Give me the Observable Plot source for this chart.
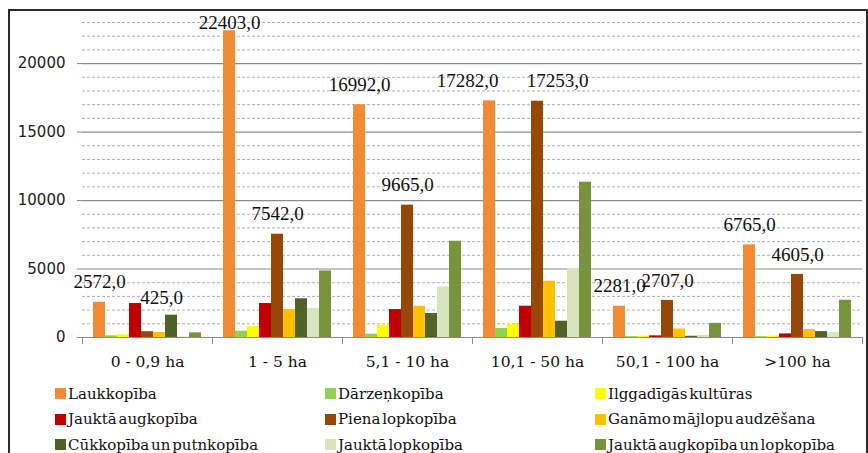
<!DOCTYPE html>
<html>
<head>
<meta charset="utf-8">
<script src="https://cdn.jsdelivr.net/npm/d3@7"></script>
<script src="https://cdn.jsdelivr.net/npm/@observablehq/plot@0.6"></script>
<style>
  html, body { margin: 0; padding: 0; background: #fff; width: 868px; height: 453px; overflow: hidden; }
  #wrap { position: relative; width: 868px; height: 453px; }
  #chart { position: absolute; left: 0; top: 0; }
  #border { position: absolute; left: 8px; top: 9px; width: 856px; height: 500px; border: 2px solid #2a2a2a; pointer-events: none; }
  #legend { position: absolute; left: 55px; top: 381px; display: grid; grid-template-columns: 270px 270px 270px; grid-auto-rows: 25.5px;
            font-family: "DejaVu Serif", serif; font-size: 15px; color: #111; word-spacing: -3px; }
  .item { display: flex; align-items: center; white-space: nowrap; }
  .sw { width: 11px; height: 11px; margin-right: 2px; flex: none; }
</style>
</head>
<body>
<div id="wrap">
  <div id="chart"></div>
  <div id="legend"></div>
  <div id="border"></div>
</div>
<script>
const groups = ["0 - 0,9 ha", "1 - 5 ha", "5,1 - 10 ha", "10,1 - 50 ha", "50,1 - 100 ha", ">100 ha"];
const series = ["Laukkopība", "Dārzeņkopība", "Ilggadīgās kultūras", "Jauktā augkopība", "Piena lopkopība",
                "Ganāmo mājlopu audzēšana", "Cūkkopība un putnkopība", "Jauktā lopkopība", "Jauktā augkopība un lopkopība"];
const colors = ["#F38A34", "#92D050", "#FFFF00", "#C00000", "#974806", "#FFC000", "#4F6228", "#D7E4BD", "#77933C"];

// values per series, in the order of groups
const laukkopiba       = [2572, 22403, 16992, 17282, 2281, 6765];
const darzenkopiba     = [120, 460, 240, 655, 60, 60];
const ilggadigas       = [200, 800, 900, 950, 90, 90];
const jauktaAugkopiba  = [2480, 2480, 2040, 2285, 120, 260];
const pienaLopkopiba   = [425, 7542, 9665, 17253, 2707, 4605];
const ganamoMajlopu    = [365, 2040, 2280, 4110, 620, 580];
const cukkopiba        = [1630, 2830, 1750, 1190, 90, 430];
const jauktaLopkopiba  = [40, 2120, 3690, 5040, 150, 360];
const jauktaAugUnLop   = [340, 4860, 7030, 11340, 1030, 2720];

const values = [laukkopiba, darzenkopiba, ilggadigas, jauktaAugkopiba, pienaLopkopiba,
                ganamoMajlopu, cukkopiba, jauktaLopkopiba, jauktaAugUnLop];
const labelledSeries = ["Laukkopība", "Piena lopkopība"];

const yTicks = [0, 5000, 10000, 15000, 20000];
const yMax = 23000;
const minorTicks = d3.range(1000, yMax + 1, 1000).filter(v => v % 5000 !== 0);
const majorTicks = yTicks.filter(v => v > 0);

const data = groups.flatMap((g, gi) => series.map((s, si) => ({group: g, series: s, value: values[si][gi]})));
const labelData = data.filter(d => labelledSeries.includes(d.series));
const labelCap = yMax - 1500;

// label placement nudges (pixels), as moved by hand in the original to avoid collisions
const labelNudge = {
  "0 - 0,9 ha|Piena lopkopība": [14, -14],
  "10,1 - 50 ha|Laukkopība": [-22, 0],
  "10,1 - 50 ha|Piena lopkopība": [20, 0]
};
const nudge = d => labelNudge[d.group + "|" + d.series] || [0, 0];

const H = 375, mTop = 22, mBottom = 38;

const chart = Plot.plot({
  width: 868,
  height: H,
  marginLeft: 80,
  marginRight: 5,
  marginTop: mTop,
  marginBottom: mBottom,
  style: {fontFamily: "DejaVu Serif", fontSize: "15px", background: "transparent", color: "#111"},
  fx: {domain: groups, padding: 0, label: null},
  x: {domain: series, axis: null, paddingInner: 0, paddingOuter: 0.85},
  y: {domain: [0, yMax], label: null},
  color: {domain: series, range: colors},
  marks: [
    Plot.ruleY(minorTicks, {stroke: "#b0b0b0", strokeDasharray: "3,2", strokeWidth: 1}),
    Plot.ruleY(majorTicks, {stroke: "#8c8c8c", strokeWidth: 1.2}),
    Plot.barY(data, {fx: "group", x: "series", y: "value", fill: "series"}),
    Plot.ruleY([0], {stroke: "#8c8c8c", strokeWidth: 1.2}),
    Plot.frame({anchor: "left", stroke: "#8c8c8c", insetTop: H - mTop - mBottom, insetBottom: -6}),
    Plot.frame({anchor: "right", stroke: "#8c8c8c", insetTop: H - mTop - mBottom, insetBottom: -6}),
    Plot.text(labelData, {
      fx: "group", x: "series", y: d => Math.min(d.value, labelCap),
      text: d => d.value.toFixed(1).replace(".", ","),
      dy: -20, fontFamily: "Liberation Serif", fontSize: 19, fill: "#111",
      render(index, scales, channels, dims, context, next) {
        const g = next(index, scales, channels, dims, context);
        d3.select(g).selectAll("text").each(function(i) {
          const d = labelData[i];
          const [nx, ny] = nudge(d);
          if (nx || ny) {
            const el = d3.select(this);
            const t = el.attr("transform") || "";
            el.attr("transform", t + ` translate(${nx},${ny})`);
          }
        });
        return g;
      }
    }),
    Plot.axisY({ticks: yTicks, tickSize: 5, tickPadding: 12, tickFormat: d => String(d), line: true,
                fontFamily: "DejaVu Sans", fontSize: 15, stroke: "#8c8c8c", fill: "#222", label: null}),
    Plot.axisFx({anchor: "bottom", tickSize: 0, tickPadding: 18, label: null,
                 fontFamily: "DejaVu Serif", fontSize: 15.5, fill: "#111"})
  ]
});
document.getElementById("chart").appendChild(chart);

const legend = document.getElementById("legend");
series.forEach((s, i) => {
  const item = document.createElement("div");
  item.className = "item";
  const sw = document.createElement("span");
  sw.className = "sw";
  sw.style.background = colors[i];
  const t = document.createElement("span");
  t.textContent = s;
  item.appendChild(sw);
  item.appendChild(t);
  legend.appendChild(item);
});
</script>
</body>
</html>
